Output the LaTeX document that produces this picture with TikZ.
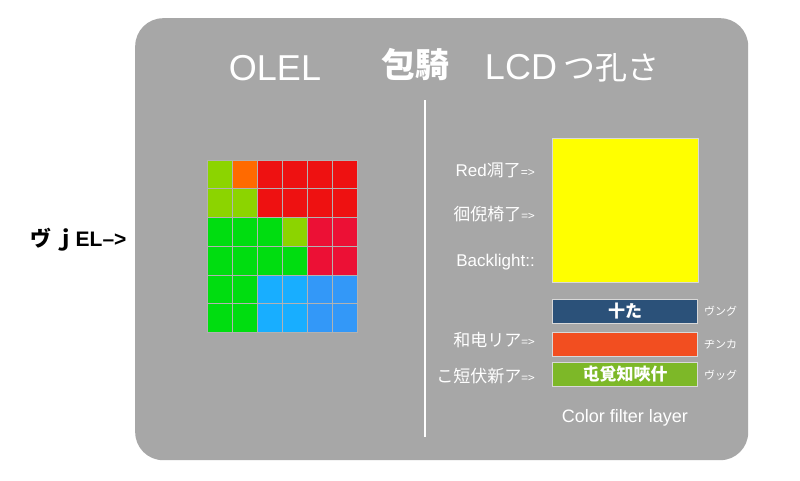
\documentclass[tikz,border=0pt]{standalone}
\usepackage{fontspec}
\setmainfont{Liberation Sans}
\newfontfamily\cjk{Noto Sans CJK JP}
\definecolor{panel}{HTML}{A7A7A7}
\definecolor{cyg}{HTML}{8CD400}
\definecolor{cor}{HTML}{FF6A00}
\definecolor{cred}{HTML}{EE1111}
\definecolor{ccr}{HTML}{EC1035}
\definecolor{cgr}{HTML}{00DD10}
\definecolor{ccy}{HTML}{18AEFF}
\definecolor{cbl}{HTML}{3398F8}
\definecolor{cyel}{HTML}{FFFF00}
\definecolor{bblue}{HTML}{2B5179}
\definecolor{bor}{HTML}{F24E20}
\definecolor{bgr}{HTML}{7DB828}
\begin{document}
\begin{tikzpicture}[x=1pt,y=-1pt,
  cell/.style={draw=black!30,line width=0.5pt},
  lab/.style={text=white,anchor=east,inner sep=0pt,font=\fontsize{17}{19}\selectfont},
  side/.style={text=white,anchor=west,inner sep=0pt,font=\cjk\fontsize{11}{13}\selectfont},
  bar/.style={draw=white!85!black,line width=1pt,minimum width=145pt,minimum height=24pt,inner sep=0pt,anchor=north west,text=white,font=\cjk\bfseries\fontsize{17}{19}\selectfont},
  ttl/.style={text=white,inner sep=0pt,font=\fontsize{36}{40}\selectfont}]
\useasboundingbox (0,0) rectangle (800,480);
\fill[white] (0,0) rectangle (800,480);
\node[fill=panel,rounded corners=28pt,minimum width=613pt,minimum height=442pt,inner sep=0pt,anchor=north west] (panel) at (135,18) {};
\coordinate (dtop) at (425,100);
\coordinate (dbot) at (425,437);
\draw[white,line width=1.5pt] (dtop) -- (dbot);
% titles
\node[ttl] (t1) at (275,68) {OLEL};
\node[ttl,font=\cjk\bfseries\fontsize{34}{38}\selectfont] (t2) at (415,65) {包騎};
\node[ttl] (t3) at (572,68) {LCD\,{\cjk\fontsize{32}{36}\selectfont つ孔さ}};
% left label
\node[anchor=west,inner sep=0pt,font=\bfseries\fontsize{21}{24}\selectfont] (ll) at (30,240) {{\cjk ヴ}\,{\cjk ｊ}EL–>};
% grid
\foreach \row/\cols in {0/{cyg,cor,cred,cred,cred,cred},1/{cyg,cyg,cred,cred,cred,cred},2/{cgr,cgr,cgr,cyg,ccr,ccr},3/{cgr,cgr,cgr,cgr,ccr,ccr},4/{cgr,cgr,ccy,ccy,cbl,cbl},5/{cgr,cgr,ccy,ccy,cbl,cbl}}{
  \foreach \c [count=\i from 0] in \cols {
    \path[cell,fill=\c] (207+\i*25,160+\row*28.7) rectangle ++(25,28.7);
  }
}
% yellow square
\node[draw=white!85!black,line width=1pt,fill=cyel,minimum width=146pt,minimum height=144pt,inner sep=0pt,anchor=north west] (yel) at (552,138) {};
% labels
\node[lab] (l1) at (535,170) {Red{\cjk 凋了}\fontsize{12}{14}\selectfont=>};
\node[lab,font=\cjk\fontsize{17}{19}\selectfont] (l2) at (535,214) {徊倪椅了{\fontsize{12}{14}\selectfont=>}};
\node[lab] (l3) at (535,262) {Backlight::};
\node[lab,font=\cjk\fontsize{17}{19}\selectfont] (l4) at (535,340) {和电リア{\fontsize{12}{14}\selectfont=>}};
\node[lab,font=\cjk\fontsize{17}{19}\selectfont] (l5) at (535,376) {こ短伏新ア{\fontsize{12}{14}\selectfont=>}};
% bars
\node[bar,fill=bblue] (b1) at (552,299) {十た};
\node[bar,fill=bor] (b2) at (552,332) {};
\node[bar,fill=bgr] (b3) at (552,362) {屯覓知唊什};
\node[side] (s1) at (704,311) {ヴング};
\node[side] (s2) at (704,344) {ヂンカ};
\node[side] (s3) at (704,375) {ヴッグ};
\node[text=white,inner sep=0pt,font=\fontsize{18}{20}\selectfont] (cf) at (625,418) {Color filter layer};
\end{tikzpicture}
\end{document}
